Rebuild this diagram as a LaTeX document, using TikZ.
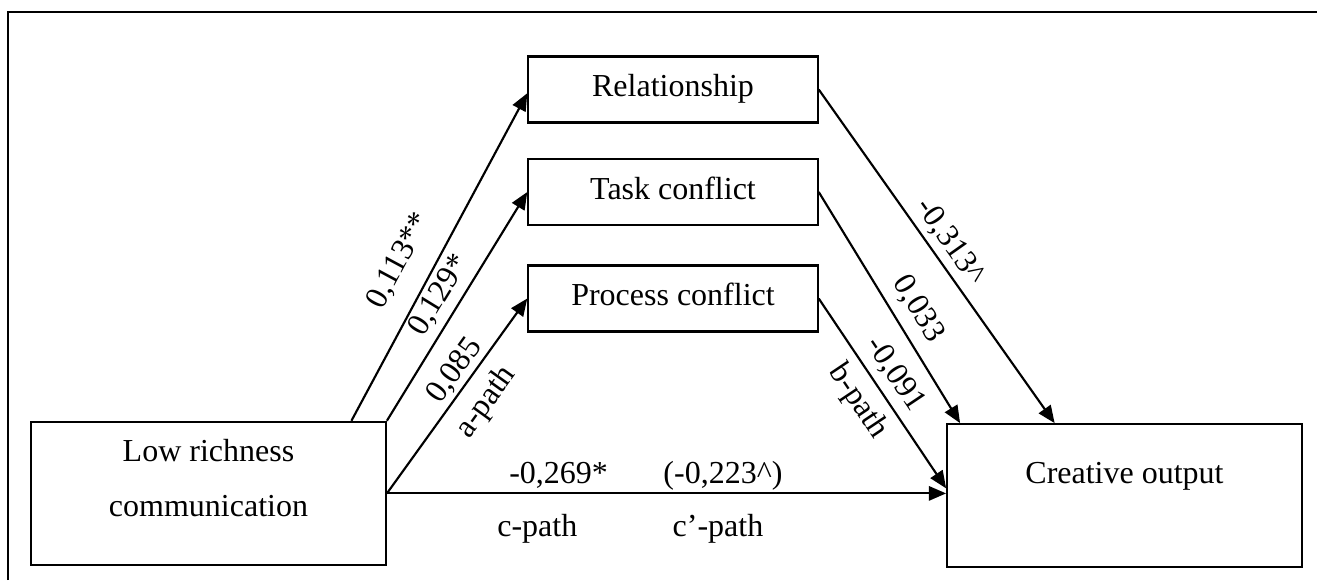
\documentclass[tikz,border=0pt]{standalone}
\usepackage{fontspec}
\setmainfont{Liberation Serif}
\usetikzlibrary{arrows.meta}

\begin{document}
\begin{tikzpicture}[x=0.375pt,y=-0.375pt,
    every node/.style={font=\fontsize{12}{14.4}\selectfont},
    box/.style={draw,line width=0.8pt,inner sep=0pt},
    midbox/.style={box,minimum width=108.5pt,minimum height=24.75pt,text height=8pt,text depth=2.6pt},
    bigbox/.style={box,minimum width=133pt,minimum height=53.7pt},
    arr/.style={line width=0.8pt,-{Triangle[length=6.5pt,width=5.4pt]}},
    coef/.style={inner sep=0pt,text height=8pt,text depth=2pt}]
        \useasboundingbox (0,0) rectangle (1317,580);
        \draw[line width=0.8pt] (7.6,580) -- (7.6,11.7) -- (1317,11.7);
        % the three conflict types
        \foreach \n/\t/\y in {rel/Relationship/89.5,task/Task conflict/192,proc/Process conflict/298.5}
        \node[midbox] (\n) at (673,\y) {\t};
        \node[bigbox,align=center,text height=19pt,text depth=2pt] (low) at (208.5,493.4)
        {Low richness\\[6pt]communication};
        \node[bigbox,text height=8pt,text depth=17.4pt] (out) at (1124.5,495.8) {Creative output};
        % a-paths
        \draw[arr] ([xshift=-13.3pt]low.north east) -- ([yshift=-1.4pt]rel.west)
        node[coef,sloped,pos=0.44,above=7pt] (l113) {0,113**};
        \draw[arr] (low.north east) -- (task.west)
        node[coef,sloped,pos=0.5,above=2.3pt] (l129) {0,129*};
        \draw[arr] (low.east) -- (proc.west)
        node[coef,sloped,pos=0.58,above=0.7pt] (l085) {0,085}
        node[coef,sloped,pos=0.55,below=4.8pt] (la) {a-path};
        % b-paths
        \draw[arr] (rel.east) -- ([xshift=40.7pt]out.north west)
        node[coef,sloped,pos=0.49,above=1.7pt] (l313) {-0,313\textasciicircum};
        \draw[arr] (task.east) -- ([xshift=5.25pt]out.north west)
        node[coef,sloped,pos=0.56,above=3.5pt] (l033) {0,033};
        \draw[arr] (proc.east) -- ([yshift=2.8pt]out.west)
        node[coef,sloped,pos=0.46,above=2.5pt] (l091) {-0,091}
        node[coef,sloped,pos=0.47,below=3.8pt] (lb) {b-path};
        % c-path
        \draw[arr] (low.east) -- (low.east -| out.west)
        node[coef,pos=0.307,above=1.5pt] (l269) {-0,269*}
        node[coef,pos=0.601,above=1.5pt] (l223) {(-0,223\textasciicircum)}
        node[coef,pos=0.269,below=7.75pt] (lc) {c-path}
        node[coef,pos=0.592,below=7.75pt] (lcp) {c’-path};
\end{tikzpicture}
\end{document}
